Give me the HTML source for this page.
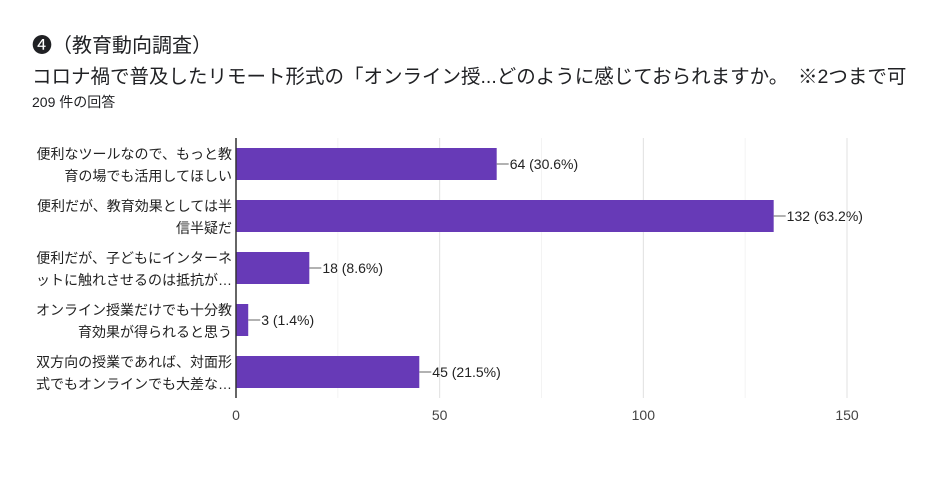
<!DOCTYPE html>
<html><head><meta charset="utf-8"><style>
body{margin:0;background:#fff;width:941px;height:476px;overflow:hidden;font-family:"Liberation Sans","Noto Sans CJK JP",sans-serif}
</style></head><body>
<svg width="941" height="476" xmlns="http://www.w3.org/2000/svg" style="font-family:'Liberation Sans','Noto Sans CJK JP',sans-serif">
<text x="32" y="52" font-size="20" fill="#202124">❹（教育動向調査）</text>
<text x="32" y="83" font-size="19.5" fill="#202124">コロナ禍で普及したリモート形式の「オンライン授...どのように感じておられますか。　※2つまで可</text>
<text x="32" y="107" font-size="14" fill="#202124">209 件の回答</text>
<g id="grid"></g><g id="bars"></g>
</svg>
<script>
const categories=[["便利なツールなので、もっと教","育の場でも活用してほしい"],["便利だが、教育効果としては半","信半疑だ"],["便利だが、子どもにインターネ","ットに触れさせるのは抵抗が…"],["オンライン授業だけでも十分教","育効果が得られると思う"],["双方向の授業であれば、対面形","式でもオンラインでも大差な…"]];
const values=[64,132,18,3,45];
const labels=["64 (30.6%)","132 (63.2%)","18 (8.6%)","3 (1.4%)","45 (21.5%)"];
const ticks=[0,50,100,150];
const minorTicks=[25,75,125];
const NS="http://www.w3.org/2000/svg";
const x0=236,x1=847,xmax=150,plotTop=138,plotBottom=398,pitch=52,bh=32,firstTop=148;
const X=v=>x0+(x1-x0)*v/xmax;
const g=document.getElementById('grid'),b=document.getElementById('bars');
function mk(tag,attrs,parent){const e=document.createElementNS(NS,tag);for(const k in attrs)e.setAttribute(k,attrs[k]);parent.appendChild(e);return e;}
minorTicks.forEach(t=>{const l=mk('line',{x1:X(t),x2:X(t),y1:plotTop,y2:plotBottom,stroke:'#f3f3f3'},g);

});
ticks.forEach(t=>{if(t>0){const l=mk('line',{x1:X(t),x2:X(t),y1:plotTop,y2:plotBottom,stroke:'#e0e0e0'},g);

}
const tx=mk('text',{x:X(t),y:420,'font-size':14,fill:'#444','text-anchor':'middle'},g);tx.textContent=t;

});
values.forEach((v,i)=>{const y=firstTop+i*pitch;
const r=mk('rect',{x:x0,y:y,width:X(v)-x0,height:bh,fill:'#673ab7'},b);


const ln=mk('line',{x1:X(v),x2:X(v)+12,y1:y+bh/2,y2:y+bh/2,stroke:'#666'},b);


const vt=mk('text',{x:X(v)+13,y:y+bh/2+5,'font-size':14,fill:'#222'},b);vt.textContent=labels[i];


categories[i].forEach((s,j)=>{const ct=mk('text',{x:x0-4,y:y+11+j*22,'font-size':14,fill:'#222','text-anchor':'end'},b);ct.textContent=s;

});});
const ax=mk('line',{x1:x0,x2:x0,y1:plotTop,y2:plotBottom,stroke:'#333','stroke-width':1.5},b);


</script>
</body></html>
